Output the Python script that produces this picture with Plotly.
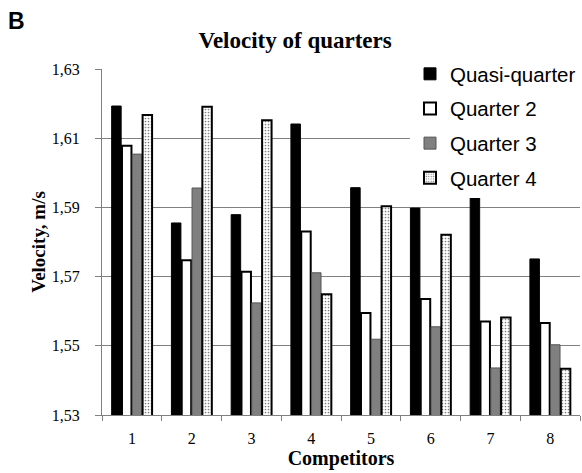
import plotly.graph_objects as go

competitors = ["1", "2", "3", "4", "5", "6", "7", "8"]
quasi_quarter = [1.6193, 1.5855, 1.5879, 1.6141, 1.5957, 1.5898, 1.5944, 1.5751]
quarter2 = [1.6078, 1.5747, 1.5714, 1.5830, 1.5595, 1.5635, 1.5570, 1.5566]
quarter3 = [1.6054, 1.5956, 1.5624, 1.5711, 1.5519, 1.5555, 1.5436, 1.5503]
quarter4 = [1.6167, 1.6191, 1.6152, 1.5649, 1.5903, 1.5821, 1.5582, 1.5434]
y_ticks = [1.53, 1.55, 1.57, 1.59, 1.61, 1.63]

serif = "Liberation Serif, Times New Roman, serif"
sans = "Liberation Sans, Arial, sans-serif"

W, H = 582, 473
L, R, T, B = 102, 2, 69, 58
pw, ph = W - L - R, H - T - B

fig = go.Figure()
fig.add_trace(go.Bar(x=competitors, y=quasi_quarter, name="Quasi-quarter", legendgroup="a",
                     marker=dict(color="black", line=dict(color="black", width=1))))
fig.add_trace(go.Bar(x=competitors, y=quarter2, name="Quarter 2", legendgroup="b",
                     marker=dict(color="white", line=dict(color="black", width=2))))
fig.add_trace(go.Bar(x=competitors, y=quarter3, name="Quarter 3", legendgroup="c",
                     marker=dict(color="#808080", line=dict(color="#555555", width=1))))
fig.add_trace(go.Bar(x=competitors, y=quarter4, name="Quarter 4", legendgroup="d",
                     marker=dict(color="white", line=dict(color="black", width=2),
                                 pattern=dict(shape=".", fgcolor="black", bgcolor="white",
                                              size=3, solidity=0.25))))

fig.update_layout(
    width=W, height=H,
    margin=dict(l=L, r=R, t=T, b=B, autoexpand=False),
    paper_bgcolor="white", plot_bgcolor="white",
    separators=", ",
    barmode="group", bargap=0.31, bargroupgap=0.08,
    title=dict(text="<b>Velocity of quarters</b>", x=0.507, xanchor="center",
               y=1 - 40 / H, yanchor="middle",
               font=dict(family=serif, size=23, color="black")),
    legend=dict(x=(410 - L) / pw, y=1 + 15 / ph, xanchor="left", yanchor="top",
                bgcolor="white", tracegroupgap=5,
                font=dict(family=sans, size=20.5, color="black")),
    xaxis=dict(type="category", showline=True, linecolor="#808080", linewidth=1,
               ticks="outside", tickson="boundaries", ticklen=5, tickcolor="#808080",
               ticklabelstandoff=9,
               tickfont=dict(family=serif, size=16, color="black"),
               title=dict(text="<b>Competitors</b>", standoff=3,
                          font=dict(family=serif, size=20, color="black"))),
    yaxis=dict(range=[1.53, 1.63], tickvals=y_ticks, tickformat=".2f",
               showline=True, linecolor="#808080", linewidth=1,
               showgrid=True, gridcolor="#808080", gridwidth=1,
               ticks="outside", ticklen=6, tickcolor="#808080",
               ticklabelstandoff=12,
               tickfont=dict(family=serif, size=16, color="black"),
               title=dict(text="<b>Velocity, m/s</b>", standoff=1,
                          font=dict(family=serif, size=19, color="black"))),
)
fig.add_annotation(text="<b>B</b>", xref="paper", yref="paper",
                   x=-(L - 6) / pw, y=1 + (T - 6) / ph, xanchor="left", yanchor="top",
                   showarrow=False, font=dict(family=sans, size=23, color="black"))

fig.write_html("out.html", config={"displayModeBar": False},
               post_script="document.body.style.margin='0';document.body.style.overflow='hidden';")
